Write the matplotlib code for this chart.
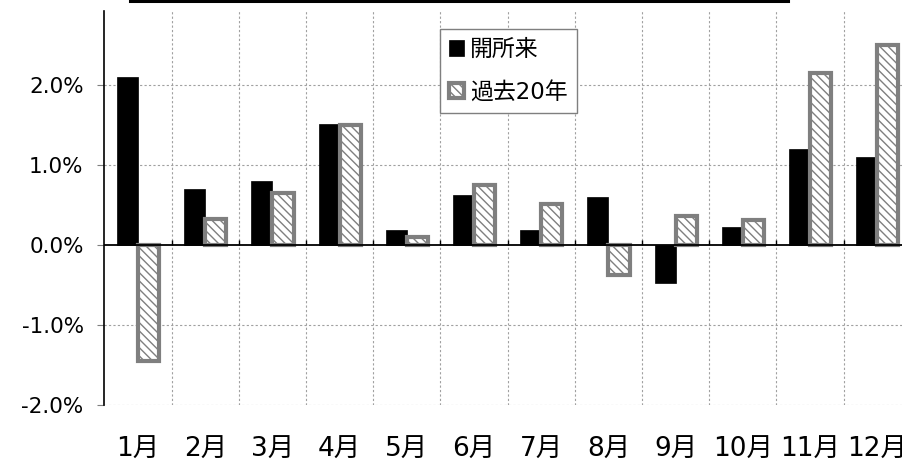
import matplotlib.pyplot as plt
from matplotlib.lines import Line2D
from matplotlib.ticker import FuncFormatter, MultipleLocator
import numpy as np

# データ
tsuki = ["1月", "2月", "3月", "4月", "5月", "6月",
         "7月", "8月", "9月", "10月", "11月", "12月"]
kaishorai = [2.1, 0.70, 0.80, 1.51, 0.19, 0.63, 0.19, 0.60, -0.48, 0.22, 1.20, 1.10]
kako20 = [-1.45, 0.33, 0.65, 1.50, 0.10, 0.75, 0.51, -0.38, 0.36, 0.31, 2.15, 2.50]
label_kaishorai = "開所来"
label_kako20 = "過去20年"

FONT = ["DejaVu Sans", "Noto Sans CJK JP"]
plt.rcParams["font.family"] = FONT
plt.rcParams["hatch.color"] = "#7f7f7f"
plt.rcParams["hatch.linewidth"] = 1.0

W, H = 903, 463
fig = plt.figure(figsize=(W / 100, H / 100), dpi=100)
fig.patch.set_facecolor("white")

# 軸の位置 (ピクセル基準)
left, right, top, bottom = 104.5, 104.5 + 67.2 * 12, 11, 405
ax = fig.add_axes([left / W, (H - bottom) / H, (right - left) / W, (bottom - top) / H])

x = np.arange(len(tsuki))
w = 0.315
ax.bar(x - w / 2, kaishorai, w, color="black", edgecolor="black", linewidth=0.5,
       label=label_kaishorai, zorder=3)
ax.bar(x + w / 2, kako20, w, color="white", edgecolor="#7f7f7f", linewidth=3.0,
       hatch="\\\\\\\\", label=label_kako20, zorder=3)

ax.set_xlim(-0.5, 11.5)
ax.set_ylim(-2.0, 2.925)
ax.yaxis.set_major_locator(MultipleLocator(1.0))
ax.yaxis.set_major_formatter(FuncFormatter(lambda v, p: f"{v:.1f}%"))

# グリッド
for yv in [-2, -1, 1, 2]:
    ax.axhline(yv, color="#a0a0a0", linestyle=(0, (2, 2)), linewidth=0.8, zorder=1)
for xb in np.arange(0.5, 11.6, 1.0):
    ax.axvline(xb, color="#a0a0a0", linestyle=(0, (2, 2)), linewidth=0.8, zorder=1)
ax.axhline(0, color="black", linewidth=1.3, zorder=4)
# ゼロ線上の目盛り
ax.vlines(np.arange(0.5, 11.6, 1.0), 0, 0.06, color="black", linewidth=1.0, zorder=4)

ax.set_xticks(x)
ax.set_xticklabels(tsuki, fontsize=19)
ax.tick_params(axis="x", length=0, pad=23)
ax.tick_params(axis="y", length=5, color="#7f7f7f", labelsize=15.5, pad=10)

for s in ["top", "right", "bottom"]:
    ax.spines[s].set_visible(False)
ax.spines["left"].set_color("black")
ax.spines["left"].set_linewidth(1.2)

leg = ax.legend(loc="upper left", bbox_to_anchor=(440 / W, 1 - 29 / H),
                bbox_transform=fig.transFigure, borderaxespad=0,
                fancybox=False, edgecolor="#7f7f7f", framealpha=1,
                fontsize=16.5, handlelength=0.65, handleheight=0.65,
                handletextpad=0.25, labelspacing=0.85, borderpad=0.4)
leg.get_frame().set_linewidth(1.0)

# 上部の黒線
fig.add_artist(Line2D([130 / W, 788 / W], [1 - 1.2 / H, 1 - 1.2 / H],
                      transform=fig.transFigure, color="black", linewidth=2.2))

fig.savefig("out.png", dpi=100, facecolor="white")
